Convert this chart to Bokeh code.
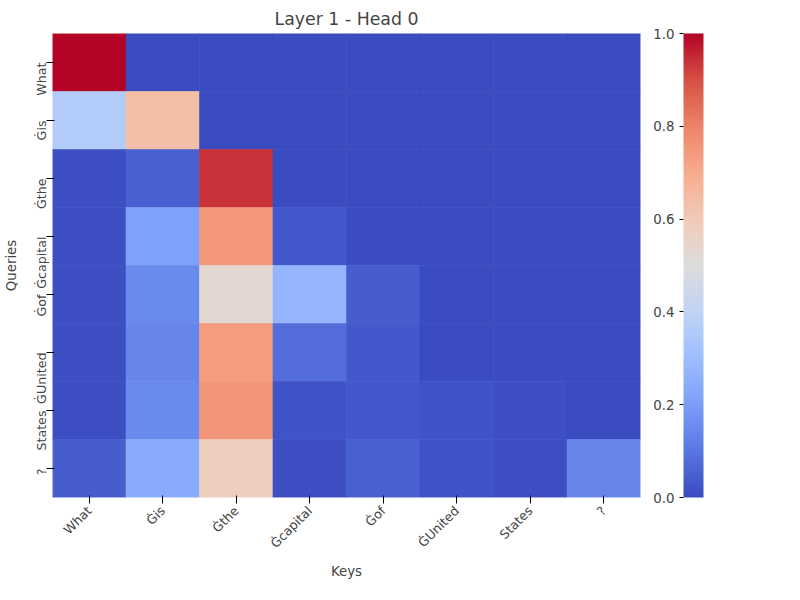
from bokeh.models import ColumnDataSource, LinearColorMapper, ColorBar, FixedTicker, PrintfTickFormatter
from bokeh.plotting import figure
from bokeh.layouts import row
from bokeh.embed import file_html
from bokeh.resources import INLINE
import numpy as np

tokens = ["What", "Ġis", "Ġthe", "Ġcapital", "Ġof", "ĠUnited", "States", "?"]
attn = [
    [1.00, 0.00, 0.00, 0.00, 0.00, 0.00, 0.00, 0.00],
    [0.36, 0.64, 0.00, 0.00, 0.00, 0.00, 0.00, 0.00],
    [0.01, 0.05, 0.94, 0.00, 0.00, 0.00, 0.00, 0.00],
    [0.01, 0.21, 0.75, 0.03, 0.00, 0.00, 0.00, 0.00],
    [0.01, 0.15, 0.53, 0.27, 0.04, 0.00, 0.00, 0.00],
    [0.01, 0.14, 0.74, 0.08, 0.03, 0.00, 0.00, 0.00],
    [0.01, 0.15, 0.76, 0.02, 0.03, 0.02, 0.01, 0.00],
    [0.04, 0.24, 0.58, 0.01, 0.05, 0.02, 0.01, 0.14],
]

# coolwarm
anchors = ['#3b4cc0', '#5977e3', '#7b9ff9', '#9ebeff', '#c0d4f5', '#dddcdc',
           '#f2cbb7', '#f7ac8e', '#ee8468', '#d65244', '#b40426']
rgb = np.array([[int(c[i:i + 2], 16) for i in (1, 3, 5)] for c in anchors], float)
t = np.linspace(0, 1, 256)
pos = np.linspace(0, 1, len(anchors))
palette = ['#%02x%02x%02x' % tuple(int(round(np.interp(v, pos, rgb[:, k]))) for k in range(3)) for v in t]

xs, ys, vals = [], [], []
for i, q in enumerate(tokens):
    for j, k in enumerate(tokens):
        xs.append(k)
        ys.append(q)
        vals.append(attn[i][j])
source = ColumnDataSource(dict(x=xs, y=ys, v=vals))

mapper = LinearColorMapper(palette=palette, low=0, high=1)
fill = {'field': 'v', 'transform': mapper}

W, H = 650, 584
p = figure(x_range=tokens, y_range=list(reversed(tokens)), width=W, height=H,
           output_backend="svg", toolbar_location=None, title="Layer 1 - Head 0",
           min_border_left=10, min_border_top=10, min_border_bottom=10, min_border_right=10)
p.rect(x='x', y='y', width=1, height=1, source=source,
       fill_color=fill, line_color=fill, line_width=0.6)

p.title.align = "center"
p.title.text_font_size = "13pt"
p.title.text_font_style = "normal"
p.title.text_font = "DejaVu Sans"
p.xaxis.axis_label = "Keys"
p.yaxis.axis_label = "Queries"
for ax in (p.xaxis[0], p.yaxis[0]):
    ax.axis_label_text_font_style = "normal"
    ax.axis_label_text_font_size = "10pt"
    ax.major_label_text_font_size = "9.5pt"
    ax.axis_label_text_font = "DejaVu Sans"
    ax.major_label_text_font = "DejaVu Sans"
    ax.axis_line_color = None
    ax.minor_tick_line_color = None
p.xaxis.major_label_orientation = np.pi / 4
p.yaxis.major_label_orientation = np.pi / 2
p.grid.grid_line_color = None
p.outline_line_color = None
p.x_range.range_padding = 0
p.y_range.range_padding = 0

# separate strip for the colour bar
c = figure(width=134, height=H, output_backend="svg", toolbar_location=None,
           min_border_left=27, min_border_top=33, min_border_bottom=87, min_border_right=0)
c.axis.visible = False
c.grid.grid_line_color = None
c.outline_line_color = None
cb = ColorBar(color_mapper=mapper, width=20, ticker=FixedTicker(ticks=[0, 0.2, 0.4, 0.6, 0.8, 1.0]),
              formatter=PrintfTickFormatter(format="%.1f"),
              major_label_text_font_size="10pt", major_label_text_font="DejaVu Sans",
              bar_line_color=None, border_line_color=None, padding=0,
              major_tick_line_color="black", major_tick_out=4, major_tick_in=0)
c.add_layout(cb, 'left')

open("out.html", "w").write(file_html(row(p, c), INLINE))
